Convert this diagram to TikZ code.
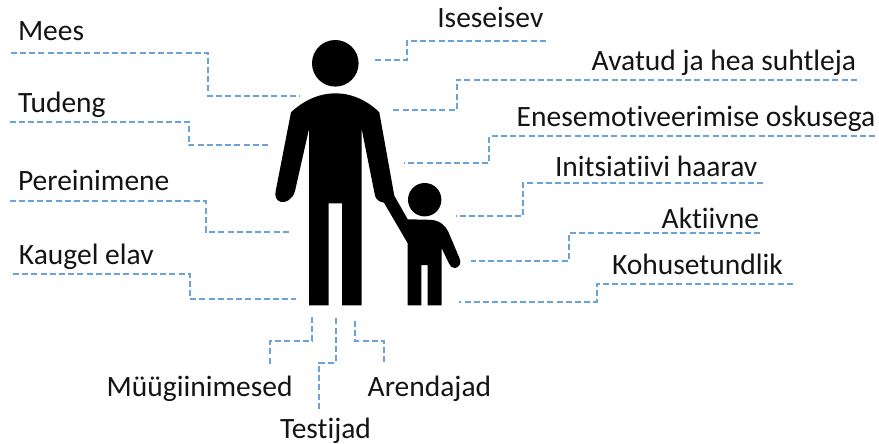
\documentclass[tikz,border=0pt]{standalone}
\usepackage{fontspec}
\setmainfont[Ligatures=NoCommon]{Carlito}
\definecolor{dashblue}{HTML}{6AA3D8}
\tikzset{
  lab/.style={anchor=base west,inner sep=0pt,outer sep=0pt,yshift=-1pt,font=\fontsize{29.5}{34}\selectfont,text=black!92},
  conn/.style={draw=dashblue,line width=1.9pt,dash pattern=on 6pt off 3.2pt},
  figure/.style={fill=black,draw=none}
}
\begin{document}
\begin{tikzpicture}[x=1pt,y=-1pt]
\useasboundingbox (0,0) rectangle (879,444);
% man
\fill[figure] (335.3,63.3) circle (23.3pt);
\fill[figure] (291,112.3) .. controls (304,100) and (320,93.3) .. (335.3,93.3)
  .. controls (351,93.3) and (367,100) .. (379.3,112.3)
  -- (394.3,195.7) -- (407.7,219.3) -- (430,219.8)
  .. controls (439,220) and (445,225) .. (448.3,231.7)
  -- (459.6,258.5) .. controls (462,264) and (458.5,267.5) .. (455,268)
  .. controls (452,268.5) and (450,266) .. (449,263.5)
  -- (441.7,248.3) -- (441.7,305.3) -- (427.7,305.3) -- (427.7,265) -- (421.3,265)
  -- (421.3,305.3) -- (407.7,305.3) -- (407.7,243.3) -- (384,202.7)
  .. controls (380,202) and (376,200) .. (375,195.7)
  -- (361.7,129) -- (361.7,305.3) -- (342,305.3) -- (342,203.3) -- (328.7,203.3)
  -- (328.7,305.3) -- (309,305.3) -- (309,129) -- (295,191)
  .. controls (293,199) and (286,203) .. (281,202)
  .. controls (276,200.5) and (274.5,196) .. (275.7,191) -- cycle;
\fill[figure] (424.7,199.7) circle (16.7pt);
% labels
\node[lab] (mees) at (18,40) {Mees};
\node[lab] (tudeng) at (18,111.7) {Tudeng};
\node[lab] (pere) at (18,189) {Pereinimene};
\node[lab] (kaugel) at (19,263.3) {Kaugel elav};
\node[lab] (ise) at (437.3,26.7) {Iseseisev};
\node[lab] (avatud) at (591.7,69.3) {Avatud ja hea suhtleja};
\node[lab] (enese) at (516.7,125) {Enesemotiveerimise oskusega};
\node[lab] (init) at (555,175) {Initsiatiivi haarav};
\node[lab] (akt) at (661.7,227.3) {Aktiivne};
\node[lab] (kohus) at (612,273.3) {Kohusetundlik};
\node[lab] (myyk) at (106.7,395) {Müügiinimesed};
\node[lab] (aren) at (367.7,395) {Arendajad};
\node[lab] (test) at (280,437.3) {Testijad};
% connector ends: a = start, k = second corner, b = end
\coordinate (a1) at (10.7,52.7);  \coordinate (k1) at (208,95.7);  \coordinate (b1) at (299,95.7);
\coordinate (a2) at (9.5,121.7);  \coordinate (k2) at (188.7,145.3); \coordinate (b2) at (270,145.3);
\coordinate (a3) at (9.5,201.3);  \coordinate (k3) at (205.7,231.7); \coordinate (b3) at (290.7,231.7);
\coordinate (a4) at (13,273.7);   \coordinate (k4) at (190,299);   \coordinate (b4) at (296,299);
\coordinate (a5) at (545.7,40.7); \coordinate (k5) at (407,60.3);  \coordinate (b5) at (372.3,60.3);
\coordinate (a6) at (856.7,79.7); \coordinate (k6) at (456.7,110); \coordinate (b6) at (391,110);
\coordinate (a7) at (875,136);    \coordinate (k7) at (489.3,162.7); \coordinate (b7) at (404.3,162.7);
\coordinate (a8) at (763.3,182.7); \coordinate (k8) at (523,216.3); \coordinate (b8) at (456,216.3);
\coordinate (a9) at (760,232.7);  \coordinate (k9) at (569,261);   \coordinate (b9) at (470.7,261);
\coordinate (a10) at (792.7,283.7); \coordinate (k10) at (596.7,302); \coordinate (b10) at (459.3,302);
\coordinate (a11) at (312,316.7); \coordinate (k11) at (270,341);  \coordinate (b11) at (270,365);
\coordinate (a12) at (336,318.3); \coordinate (k12) at (319.3,362.7); \coordinate (b12) at (319.3,410);
\coordinate (a13) at (355,321);   \coordinate (k13) at (384.3,341); \coordinate (b13) at (384.3,365);
\foreach \i in {1,...,10} \draw[conn] (a\i) -| (k\i) -- (b\i);
\foreach \i in {11,12,13} \draw[conn] (a\i) |- (k\i) -- (b\i);
\end{tikzpicture}
\end{document}
